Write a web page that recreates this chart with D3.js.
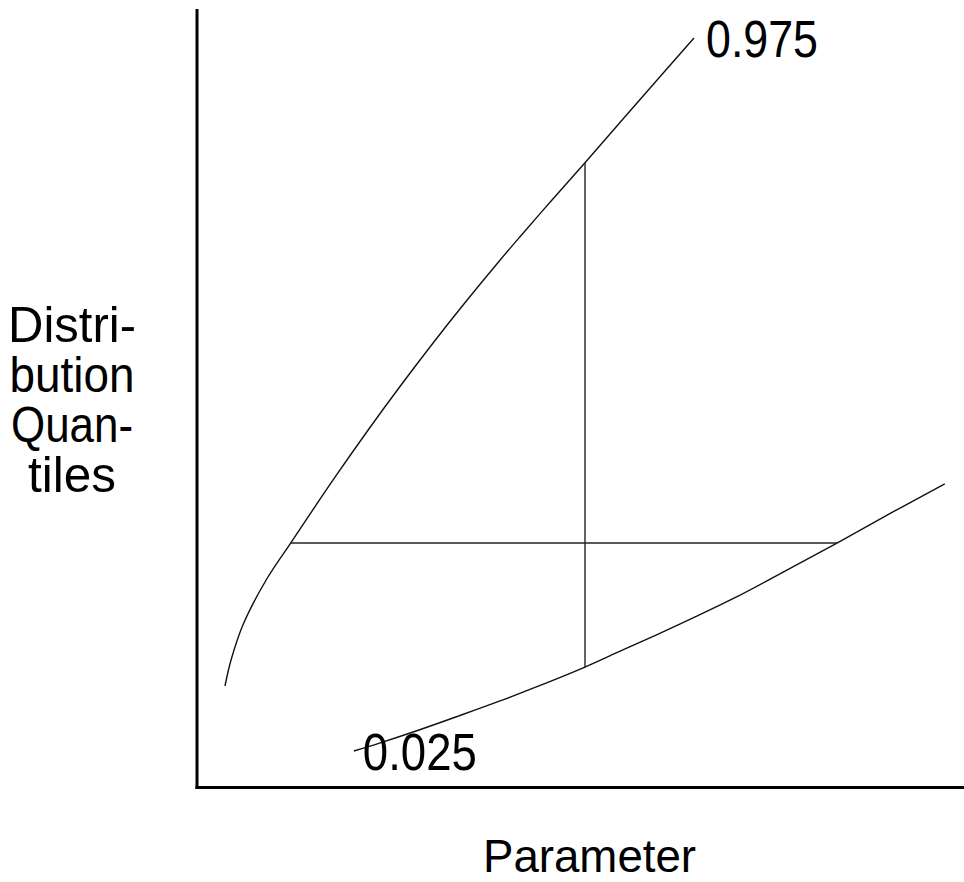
<!DOCTYPE html>
<html>
<head>
<meta charset="utf-8">
<script src="https://d3js.org/d3.v7.min.js"></script>
<style>
  body { margin: 0; background: #fff; }
  text { font-family: "Liberation Sans", Arial, sans-serif; fill: #000; }
</style>
</head>
<body>
<div id="chart"></div>
<script>
// data (parameter units 0-10, quantile units 0-10)
var upperX = [0.371, 0.450, 0.610, 0.915, 1.227, 1.782, 2.218, 2.651, 3.085, 3.521, 3.954, 4.215, 4.632, 5.062, 5.779, 6.482];
var upperY = [1.300, 1.634, 2.098, 2.677, 3.140, 3.955, 4.569, 5.154, 5.718, 6.261, 6.780, 7.082, 7.555, 8.035, 8.848, 9.640];

var lowerX = [2.050, 2.384, 2.899, 3.415, 3.928, 4.444, 5.062, 5.475, 5.987, 6.504, 7.016, 7.535, 8.345, 9.080, 9.749];
var lowerY = [0.463, 0.565, 0.734, 0.914, 1.098, 1.295, 1.544, 1.728, 1.956, 2.192, 2.436, 2.707, 3.140, 3.543, 3.900];

var quantileLabels = ["0.975", "0.025"];

// observed parameter (vertical line) and observed value (horizontal line)
var paramObs = 5.062;
var paramRange = [1.544, 8.035];
var valueObs = 3.140;
var valueRange = [1.227, 8.345];

var xLabel = "Parameter";
var yLabelLines = ["Distri-", "bution", "Quan-", "tiles"];

// svg wrapper
var svgWidth = 964;
var svgHeight = 882;

var svg = d3.select("#chart")
  .append("svg")
  .attr("width", svgWidth)
  .attr("height", svgHeight);

// scales
var xScale = d3.scaleLinear()
  .domain([0, 10])
  .range([196.5, 964]);

var yScale = d3.scaleLinear()
  .domain([0, 10])
  .range([787, 10]);

// axes without ticks
var bottomAxis = d3.axisBottom(xScale).tickValues([]).tickSizeOuter(0);
var leftAxis = d3.axisLeft(yScale).tickValues([]).tickSizeOuter(0);

svg.append("g")
  .attr("transform", `translate(0, ${yScale(0)})`)
  .call(bottomAxis)
  .select(".domain")
  .attr("stroke", "#000")
  .attr("stroke-width", 3)
  .attr("stroke-linecap", "square");

svg.append("g")
  .attr("transform", `translate(${xScale(0)}, 0)`)
  .call(leftAxis)
  .select(".domain")
  .attr("stroke", "#000")
  .attr("stroke-width", 3)
  .attr("stroke-linecap", "square");

// quantile curves
var series = [
  { label: quantileLabels[0], pts: upperX.map((x, i) => [x, upperY[i]]) },
  { label: quantileLabels[1], pts: lowerX.map((x, i) => [x, lowerY[i]]) }
];

var line = d3.line()
  .x(d => xScale(d[0]))
  .y(d => yScale(d[1]))
  .curve(d3.curveCatmullRom.alpha(0.5));

svg.selectAll(".curve")
  .data(series)
  .enter()
  .append("path")
  .attr("class", "curve")
  .attr("d", d => line(d.pts))
  .attr("fill", "none")
  .attr("stroke", "#111")
  .attr("stroke-width", 1.4);

// horizontal line at the observed value
svg.append("line")
  .attr("x1", xScale(valueRange[0]))
  .attr("x2", xScale(valueRange[1]))
  .attr("y1", yScale(valueObs))
  .attr("y2", yScale(valueObs))
  .attr("stroke", "#222")
  .attr("stroke-width", 1.5);

// vertical line at the parameter
svg.append("line")
  .attr("x1", xScale(paramObs))
  .attr("x2", xScale(paramObs))
  .attr("y1", yScale(paramRange[0]))
  .attr("y2", yScale(paramRange[1]))
  .attr("stroke", "#222")
  .attr("stroke-width", 1.4);

// curve labels: 0.975 at the top end, 0.025 at the left end
var upperEnd = series[0].pts[series[0].pts.length - 1];
var lowerStart = series[1].pts[0];

svg.append("text")
  .attr("x", xScale(upperEnd[0]) + 12)
  .attr("y", yScale(upperEnd[1]) + 19)
  .attr("font-size", 51)
  .attr("textLength", 112)
  .attr("lengthAdjust", "spacingAndGlyphs")
  .text(series[0].label);

svg.append("text")
  .attr("x", xScale(lowerStart[0]) + 9)
  .attr("y", yScale(lowerStart[1]) + 19)
  .attr("font-size", 51)
  .attr("textLength", 114)
  .attr("lengthAdjust", "spacingAndGlyphs")
  .text(series[1].label);

// axis labels
svg.append("text")
  .attr("x", 483)
  .attr("y", 872)
  .attr("font-size", 46)
  .attr("textLength", 213)
  .attr("lengthAdjust", "spacingAndGlyphs")
  .text(xLabel);

var yLabelWidths = [128, 125, 122, 88];
svg.selectAll(".ylab")
  .data(yLabelLines)
  .enter()
  .append("text")
  .attr("class", "ylab")
  .attr("x", 72)
  .attr("y", (d, i) => 341.7 + i * 50)
  .attr("text-anchor", "middle")
  .attr("font-size", 50)
  .attr("textLength", (d, i) => yLabelWidths[i])
  .attr("lengthAdjust", "spacingAndGlyphs")
  .text(d => d);
</script>
</body>
</html>
